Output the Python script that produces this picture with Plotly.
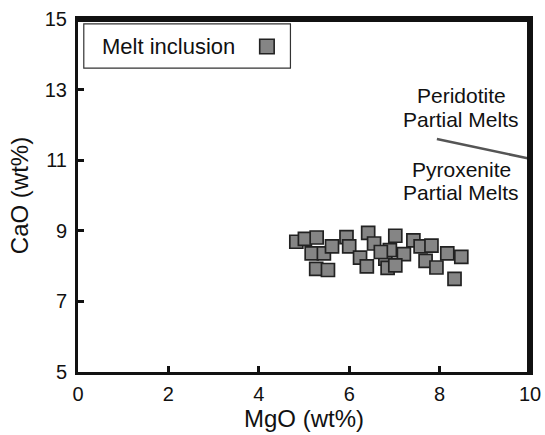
import plotly.graph_objects as go

# Melt inclusion data (MgO wt%, CaO wt%)
mgo = [4.83, 5.02, 5.28, 5.17, 5.44, 5.27, 5.53, 5.62, 5.94, 6.00, 6.42, 6.24, 6.39,
       6.55, 6.80, 6.90, 6.70, 6.85, 7.02, 7.42, 7.21, 7.02, 7.58, 7.82, 7.69, 7.93,
       8.17, 8.48, 8.33]
cao = [8.69, 8.77, 8.81, 8.36, 8.36, 7.92, 7.89, 8.56, 8.82, 8.56, 8.94, 8.24, 7.99,
       8.64, 8.21, 8.45, 8.40, 7.95, 8.86, 8.73, 8.34, 8.02, 8.56, 8.58, 8.15, 7.96,
       8.36, 8.26, 7.64]

# Boundary line between peridotite and pyroxenite partial melts
line_x = [7.94, 10.0]
line_y = [11.60, 11.04]

x_ticks = [0, 2, 4, 6, 8, 10]
y_ticks = [5, 7, 9, 11, 13, 15]

FONT = "Liberation Sans, Arial, sans-serif"

fig = go.Figure()
fig.add_trace(go.Scatter(
    x=line_x, y=line_y, mode="lines",
    line=dict(color="#555555", width=2.5), showlegend=False, hoverinfo="skip"))
fig.add_trace(go.Scatter(
    x=mgo, y=cao, mode="markers", name="Melt inclusion",
    marker=dict(symbol="square", size=13, color="#858585",
                line=dict(color="#222222", width=1.7)),
    showlegend=False))

# Labels for fields
for txt, yy in [("Peridotite", 12.84), ("Partial Melts", 12.16),
                ("Pyroxenite", 10.73), ("Partial Melts", 10.08)]:
    fig.add_annotation(x=8.475, y=yy, xref="x", yref="y", text=txt, showarrow=False,
                       font=dict(family=FONT, size=21, color="#111"))

# Top and right sides of the frame, drawn just inside the plot area
fig.add_shape(type="line", xref="paper", yref="paper", x0=0, x1=1, y0=0.9958, y1=0.9958,
              line=dict(color="#111111", width=3), layer="above")
fig.add_shape(type="line", xref="paper", yref="paper", x0=0.9967, x1=0.9967, y0=0, y1=1,
              line=dict(color="#111111", width=3), layer="above")

# Custom legend box (text left, key right)
fig.add_shape(type="rect", xref="x", yref="y", x0=0.128, x1=4.70, y0=13.61, y1=14.86,
              line=dict(color="#333333", width=1.2), fillcolor="white", layer="above")
fig.add_annotation(x=0.48, y=14.22, xref="x", yref="y", text="Melt inclusion",
                   showarrow=False, xanchor="left",
                   font=dict(family=FONT, size=22, color="#111"))
fig.add_shape(type="rect", xref="x", yref="y", x0=4.02, x1=4.34, y0=14.015, y1=14.425,
              line=dict(color="#222222", width=1.6), fillcolor="#858585", layer="above")

fig.update_layout(
    width=545, height=435,
    margin=dict(l=78, r=15, t=19, b=63),
    paper_bgcolor="white", plot_bgcolor="white",
    font=dict(family=FONT, size=21, color="#111"),
    showlegend=False,
)
fig.update_xaxes(range=[0, 10], tickvals=x_ticks, ticktext=[str(v) for v in x_ticks],
                 showline=True, mirror=True, linecolor="#111111", linewidth=3,
                 ticks="inside", ticklen=6, tickwidth=2.5, tickcolor="#111111",
                 showgrid=False, zeroline=False, automargin=False,
                 ticklabeloverflow="allow", ticklabelstandoff=2,
                 tickfont=dict(size=20),
                 title=dict(text="MgO (wt%)", font=dict(size=24), standoff=2))
fig.update_yaxes(range=[5, 15], tickvals=y_ticks, ticktext=[str(v) for v in y_ticks],
                 showline=True, mirror=True, linecolor="#111111", linewidth=3,
                 ticks="inside", ticklen=6, tickwidth=2.5, tickcolor="#111111",
                 showgrid=False, zeroline=False, automargin=False,
                 ticklabeloverflow="allow", ticklabelstandoff=4,
                 tickfont=dict(size=20),
                 title=dict(text="CaO (wt%)", font=dict(size=24), standoff=10))

# remove the default 8px page margin so the figure sits at the window's corner
fig.write_html("out.html", config={"displayModeBar": False},
               post_script="document.body.style.margin='0';document.body.style.overflow='hidden';")
